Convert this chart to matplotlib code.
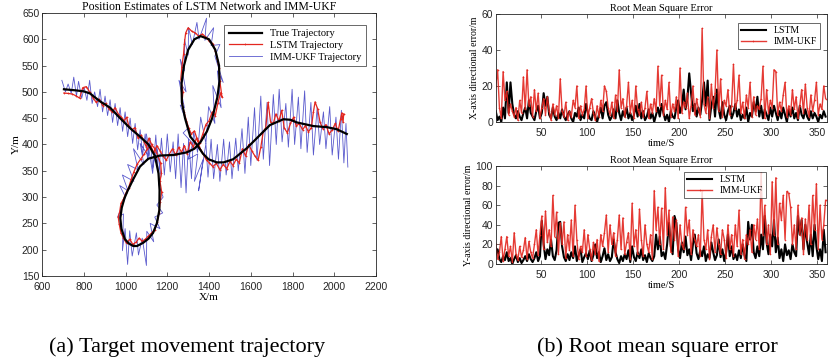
import matplotlib
matplotlib.use('Agg')
import matplotlib.pyplot as plt

plt.rcParams['font.family'] = 'Liberation Sans'
SERIF = 'Liberation Serif'

# ---- (a) trajectories ----
true_x = [705, 760, 800, 830, 878, 926, 974, 1022, 1069, 1110, 1141, 1158, 1163, 1162, 1150, 1132, 1110, 1084,
          1055, 1037, 1015, 997, 980, 975, 982, 995, 1010, 1037, 1069, 1109, 1165, 1229, 1293, 1330, 1360, 1390,
          1415, 1440, 1450, 1448, 1430, 1400, 1360, 1330, 1300, 1280, 1268, 1270, 1285, 1310, 1341, 1370, 1397,
          1437, 1470, 1516, 1581, 1644, 1692, 1756, 1790, 1820, 1900, 1964, 2012, 2060]
true_y = [505, 503, 501, 497, 482, 470, 450, 431, 415, 400, 378, 345, 313, 275, 250, 232, 221, 213,
          207, 207, 212, 220, 240, 260, 280, 298, 312, 334, 358, 373, 379, 380, 385, 392, 405, 425,
          450, 490, 520, 550, 580, 600, 606, 600, 580, 550, 515, 480, 450, 415, 400, 383, 372,
          366, 366, 372, 393, 418, 437, 448, 447, 442, 435, 433, 429, 420]

lstm_x = [705, 725, 745, 765, 780, 795, 812, 828, 845, 860, 875, 890, 905, 920, 935, 950, 965, 980, 993, 1005,
          1015, 1030, 1045, 1060, 1075, 1090, 1100, 1112, 1125, 1140, 1155, 1168, 1172, 1165, 1173, 1166, 1160,
          1152, 1140, 1125, 1110, 1095, 1080, 1065, 1050, 1035, 1020, 1005, 990, 978, 970, 965, 972, 978, 990,
          1002, 1015, 1028, 1040, 1055, 1072, 1090, 1105, 1120, 1135, 1150, 1165, 1180, 1195, 1210, 1225, 1240,
          1255, 1268, 1282, 1295, 1310, 1325, 1340, 1355, 1370, 1385, 1400, 1415, 1430, 1442, 1455, 1462, 1452,
          1448, 1440, 1430, 1418, 1402, 1385, 1368, 1350, 1335, 1318, 1300, 1288, 1282, 1278, 1270, 1265, 1275,
          1270, 1280, 1292, 1302, 1315, 1330, 1345, 1358, 1372, 1388, 1402, 1418, 1435, 1452, 1468, 1485, 1500,
          1515, 1530, 1545, 1560, 1575, 1590, 1605, 1620, 1635, 1648, 1660, 1672, 1683, 1695, 1708, 1720, 1735,
          1748, 1760, 1775, 1790, 1805, 1818, 1832, 1848, 1862, 1876, 1890, 1900, 1908, 1920, 1932, 1945, 1960,
          1975, 1990, 2005, 2018, 2030, 2036, 2042, 2045]
lstm_y = [498, 497, 496, 492, 488, 508, 510, 500, 488, 480, 486, 474, 478, 468, 462, 470, 458, 452, 445, 452,
          436, 428, 432, 412, 418, 404, 395, 412, 400, 392, 378, 365, 345, 330, 310, 290, 270,
          252, 238, 232, 226, 220, 216, 222, 214, 210, 220, 212, 222, 232, 248, 262, 272, 288, 296,
          308, 318, 335, 348, 362, 372, 382, 392, 398, 385, 398, 388, 378, 370, 382, 392, 380,
          395, 385, 398, 382, 405, 395, 412, 402, 420, 438, 445, 462, 455, 478, 498, 490, 520,
          545, 562, 578, 592, 596, 604, 610, 606, 612, 615, 622, 612, 592, 572, 548, 525, 500,
          478, 462, 445, 432, 420, 426, 408, 392, 382, 370, 365, 358, 364, 352, 362, 354, 368,
          360, 372, 365, 392, 378, 400, 388, 378, 370, 395, 425, 432, 480, 442, 440, 458, 445,
          465, 432, 422, 440, 452, 435, 440, 428, 436, 424, 432, 462, 481, 468, 442, 430, 438,
          420, 428, 440, 425, 448, 460, 442, 458]

imm_x = [695, 712, 725, 740, 752, 765, 775, 790, 802, 815, 828, 840, 852, 866, 878, 890, 902, 914, 926, 938,
         950, 962, 974, 986, 998, 1010, 1022, 1034, 1046, 1058, 1070, 1082, 1094, 1106, 1118, 1130, 1150, 1170,
         1158, 1180, 1150, 1178, 1140, 1165, 1118, 1135, 1102, 1100, 1080, 1062, 1052, 1032, 1020, 1010, 998,
         985, 990, 962, 1000, 972, 1012, 985, 1040, 1010, 1060, 1038, 1088, 1070, 1110, 1100, 1130, 1145, 1158,
         1172, 1186, 1200, 1214, 1228, 1240, 1252, 1266, 1278, 1290, 1302, 1316, 1326, 1345, 1360, 1385, 1398,
         1428, 1418, 1458, 1440, 1468, 1428, 1452, 1410, 1422, 1380, 1388, 1352, 1342, 1320, 1302, 1300, 1282,
         1282, 1262, 1290, 1256, 1282, 1262, 1302, 1276, 1322, 1300, 1346, 1330, 1372, 1350, 1385, 1395, 1410,
         1422, 1440, 1452, 1470, 1482, 1498, 1510, 1528, 1540, 1558, 1572, 1588, 1600, 1618, 1630, 1648, 1660,
         1678, 1690, 1708, 1722, 1736, 1750, 1768, 1780, 1798, 1810, 1828, 1840, 1858, 1870, 1888, 1900, 1918,
         1930, 1948, 1960, 1978, 1990, 2008, 2020, 2034, 2046, 2056, 2065]
imm_y = [522, 500, 515, 497, 528, 492, 520, 488, 508, 484, 522, 478, 500, 472, 505, 462, 492, 455, 485, 442,
         478, 436, 470, 425, 462, 415, 450, 402, 440, 390, 428, 380, 420, 370, 412, 355, 395, 340,
         325, 300, 285, 270, 262, 240, 250, 215, 235, 170, 222, 190, 232, 188, 236, 172, 240,
         198, 268, 262, 300, 322, 312, 342, 330, 362, 352, 392, 362, 402, 378, 420, 345, 418, 338,
         412, 342, 420, 348, 405, 335, 420, 318, 402, 308, 410, 335, 425, 385, 452, 402, 472,
         440, 512, 470, 540, 518, 568, 590, 588, 622, 598, 640, 600, 632, 590, 622, 570, 600,
         540, 562, 500, 522, 470, 475, 432, 422, 402, 372, 382, 330, 372, 312, 402, 338, 410,
         335, 400, 330, 410, 342, 405, 335, 412, 350, 430, 345, 452, 360, 470, 370, 492, 372,
         480, 360, 495, 400, 505, 405, 478, 395, 505, 400, 490, 392, 502, 385, 480, 380, 470,
         400, 462, 392, 472, 380, 452, 372, 465, 365, 440, 357]

# ---- (b) RMSE, t = 1, 3, ..., 359 ----
t = list(range(1, 361, 2))
lstm_ex = [6, 1, 3, 0, 8, 2, 22, 5, 22, 10,
           4, 2, 6, 3, 1, 5, 8, 2, 12, 5,
           3, 1, 6, 9, 2, 5, 16, 9, 14, 4,
           2, 8, 3, 1, 5, 2, 7, 3, 1, 4,
           6, 2, 0, 5, 3, 8, 1, 4, 2, 10,
           5, 2, 1, 6, 3, 0, 4, 8, 2, 9,
           11, 4, 1, 3, 7, 2, 12, 5, 1, 6,
           3, 8, 2, 5, 1, 4, 9, 3, 10, 2,
           6, 1, 3, 7, 2, 5, 0, 4, 8, 3,
           10, 5, 1, 4, 0, 6, 3, 2, 8, 12,
           5, 9, 18, 7, 13, 27, 16, 6, 10, 3,
           8, 4, 12, 22, 9, 23, 1, 9, 14, 3,
           18, 7, 2, 11, 4, 1, 6, 9, 2, 5,
           10, 3, 7, 1, 4, 2, 8, 0, 5, 3,
           11, 6, 14, 3, 9, 2, 7, 4, 1, 8,
           3, 9, 5, 1, 6, 2, 8, 4, 0, 7,
           3, 8, 2, 5, 1, 9, 4, 2, 7, 3,
           1, 6, 2, 5, 3, 0, 4, 2, 6, 3]
imm_ex = [20, 29, 8, 2, 28, 12, 17, 4, 10, 6,
          3, 8, 1, 12, 5, 25, 7, 29, 9, 14,
          3, 18, 6, 16, 2, 8, 13, 4, 14, 6,
          1, 10, 4, 9, 2, 24, 6, 3, 11, 1,
          6, 3, 12, 8, 20, 2, 9, 4, 7, 20,
          2, 8, 13, 5, 1, 9, 3, 12, 6, 20,
          17, 8, 4, 11, 2, 15, 6, 29, 8, 13,
          3, 9, 22, 5, 12, 2, 20, 7, 4, 11,
          3, 8, 17, 2, 10, 5, 13, 6, 31, 9,
          26, 4, 12, 7, 22, 3, 10, 6, 14, 2,
          30, 5, 11, 8, 16, 2, 9, 20, 4, 13,
          7, 3, 52, 10, 5, 14, 2, 21, 8, 16,
          40, 6, 24, 3, 12, 9, 18, 4, 9, 32,
          7, 12, 26, 5, 11, 2, 15, 8, 22, 3,
          14, 4, 9, 7, 13, 31, 2, 18, 5, 12,
          8, 29, 28, 4, 11, 6, 15, 22, 3, 9,
          4, 18, 7, 14, 2, 9, 18, 5, 21, 8,
          3, 15, 6, 12, 22, 4, 10, 7, 20, 13]
lstm_ey = [10, 15, 5, 2, 8, 4, 12, 3, 6, 0,
           5, 9, 2, 6, 1, 4, 8, 3, 10, 5,
           2, 6, 12, 3, 8, 44, 20, 5, 15, 9,
           25, 8, 4, 14, 42, 43, 18, 7, 3, 10,
           4, 12, 6, 18, 3, 9, 15, 2, 7, 11,
           5, 14, 3, 9, 20, 6, 12, 2, 8, 16,
           4, 10, 3, 7, 25, 12, 5, 1, 8, 3,
           10, 5, 14, 2, 18, 7, 3, 12, 6, 15,
           4, 9, 2, 11, 6, 3, 8, 30, 15, 28,
           8, 12, 5, 20, 42, 18, 10, 49, 42, 15,
           6, 22, 12, 28, 9, 15, 4, 20, 30, 11,
           5, 14, 8, 18, 3, 10, 6, 22, 12, 4,
           9, 25, 7, 15, 3, 12, 30, 8, 18, 5,
           10, 4, 14, 6, 20, 9, 3, 43, 25, 40,
           12, 6, 18, 8, 30, 15, 49, 22, 10, 30,
           18, 45, 12, 27, 6, 15, 3, 20, 9, 14,
           5, 20, 12, 8, 49, 30, 45, 15, 40, 22,
           10, 30, 8, 40, 18, 5, 15, 3, 35, 12]
imm_ey = [20, 5, 12, 28, 3, 15, 28, 8, 18, 2,
          32, 10, 4, 18, 7, 14, 27, 5, 23, 12,
          6, 20, 35, 9, 30, 49, 15, 54, 22, 35,
          18, 70, 28, 53, 10, 42, 20, 43, 6, 30,
          14, 45, 8, 60, 25, 5, 18, 12, 35, 8,
          30, 15, 4, 22, 10, 25, 3, 30, 18, 32,
          50, 12, 40, 20, 32, 8, 25, 50, 15, 47,
          10, 22, 32, 5, 62, 18, 35, 10, 56, 25,
          8, 40, 20, 12, 30, 5, 75, 35, 58, 20,
          57, 15, 78, 30, 55, 12, 48, 25, 45, 8,
          40, 20, 15, 58, 30, 45, 10, 35, 25, 18,
          30, 8, 74, 25, 15, 35, 5, 28, 40, 12,
          37, 20, 10, 35, 25, 6, 40, 15, 30, 8,
          40, 18, 55, 10, 25, 5, 30, 20, 35, 12,
          40, 25, 46, 15, 93, 30, 60, 20, 40, 10,
          84, 30, 88, 20, 62, 45, 70, 25, 74, 72,
          58, 20, 40, 15, 60, 30, 47, 10, 46, 25,
          60, 20, 70, 35, 82, 15, 60, 25, 40, 65]

RED = '#e3261f'
BLUE = '#3c3cc4'


def matlab_axes(ax):
    ax.tick_params(direction='in', top=True, right=True, length=3, width=0.5,
                   labelsize=7.5, colors='#262626', pad=2)
    ax.tick_params(axis='x', pad=4)
    for s in ax.spines.values():
        s.set_linewidth(0.6)
        s.set_color('#262626')


fig = plt.figure(figsize=(8.29, 3.63), dpi=100)

ax = fig.add_axes([0.0507, 0.2397, 0.4029, 0.7245])
ax.plot(imm_x, imm_y, color=BLUE, lw=0.6, alpha=0.85, label='IMM-UKF Trajectory', zorder=2)
ax.plot(lstm_x, lstm_y, color=RED, lw=0.9, marker='+', ms=2, mew=0.5, label='LSTM Trajectory', zorder=3)
ax.plot(true_x, true_y, color='black', lw=1.6, label='True Trajectory', zorder=4)
ax.set_xlim(600, 2200)
ax.set_ylim(150, 650)
ax.set_xticks(range(600, 2201, 200))
ax.set_yticks(range(150, 651, 50))
matlab_axes(ax)
ax.set_title('Position Estimates of LSTM Network and IMM-UKF', fontfamily=SERIF, fontsize=8.5, pad=2)
ax.set_xlabel('X/m', fontfamily=SERIF, fontsize=8, labelpad=1)
ax.set_ylabel('Y/m', fontfamily=SERIF, fontsize=8, labelpad=1)
h, l = ax.get_legend_handles_labels()
leg = ax.legend(h[::-1], l[::-1], loc='upper right', prop={'family': SERIF, 'size': 7.5},
                fancybox=False, edgecolor='#262626', borderpad=0.4, labelspacing=0.25,
                handlelength=3.2, bbox_to_anchor=(0.985, 0.975))
leg.get_frame().set_linewidth(0.6)

ax1 = fig.add_axes([0.598, 0.664, 0.399, 0.2975])
ax1.plot(t, lstm_ex, color='black', lw=1.5, label='LSTM')
ax1.plot(t, imm_ex, color=RED, lw=1.0, alpha=0.9, marker='+', ms=1.5, mew=0.4, label='IMM-UKF')
ax1.set_xlim(1, 360)
ax1.set_ylim(0, 60)
ax1.set_xticks(range(50, 351, 50))
ax1.set_yticks([0, 20, 40, 60])
matlab_axes(ax1)
ax1.set_title('Root Mean Square Error', fontfamily=SERIF, fontsize=7.5, pad=2)
ax1.set_xlabel('time/S', fontfamily=SERIF, fontsize=7.5, labelpad=1)
ax1.set_ylabel('X-axis directional error/m', fontfamily=SERIF, fontsize=7, labelpad=2)
leg1 = ax1.legend(loc='upper right', prop={'family': SERIF, 'size': 7}, fancybox=False,
                  edgecolor='#262626', borderpad=0.3, labelspacing=0.2, handlelength=2.6,
                  bbox_to_anchor=(0.995, 0.96))
leg1.get_frame().set_linewidth(0.6)

ax2 = fig.add_axes([0.598, 0.2727, 0.399, 0.27])
ax2.plot(t, lstm_ey, color='black', lw=1.5, label='LSTM')
ax2.plot(t, imm_ey, color=RED, lw=1.0, alpha=0.9, marker='+', ms=1.5, mew=0.4, label='IMM-UKF')
ax2.set_xlim(1, 360)
ax2.set_ylim(0, 100)
ax2.set_xticks(range(50, 351, 50))
ax2.set_yticks(range(0, 101, 20))
matlab_axes(ax2)
ax2.set_title('Root Mean Square Error', fontfamily=SERIF, fontsize=7.5, pad=2)
ax2.set_xlabel('time/S', fontfamily=SERIF, fontsize=7.5, labelpad=1)
ax2.set_ylabel('Y-axis directional error/m', fontfamily=SERIF, fontsize=7, labelpad=2)
leg2 = ax2.legend(loc='upper left', prop={'family': SERIF, 'size': 7}, fancybox=False,
                  edgecolor='#262626', borderpad=0.3, labelspacing=0.2, handlelength=2.6,
                  bbox_to_anchor=(0.555, 0.985))
leg2.get_frame().set_linewidth(0.6)

fig.text(0.226, 0.044, '(a) Target movement trajectory', fontfamily=SERIF, fontsize=16,
         ha='center', va='center')
fig.text(0.793, 0.044, '(b) Root mean square error', fontfamily=SERIF, fontsize=16,
         ha='center', va='center')

fig.savefig('out.png', dpi=100)
